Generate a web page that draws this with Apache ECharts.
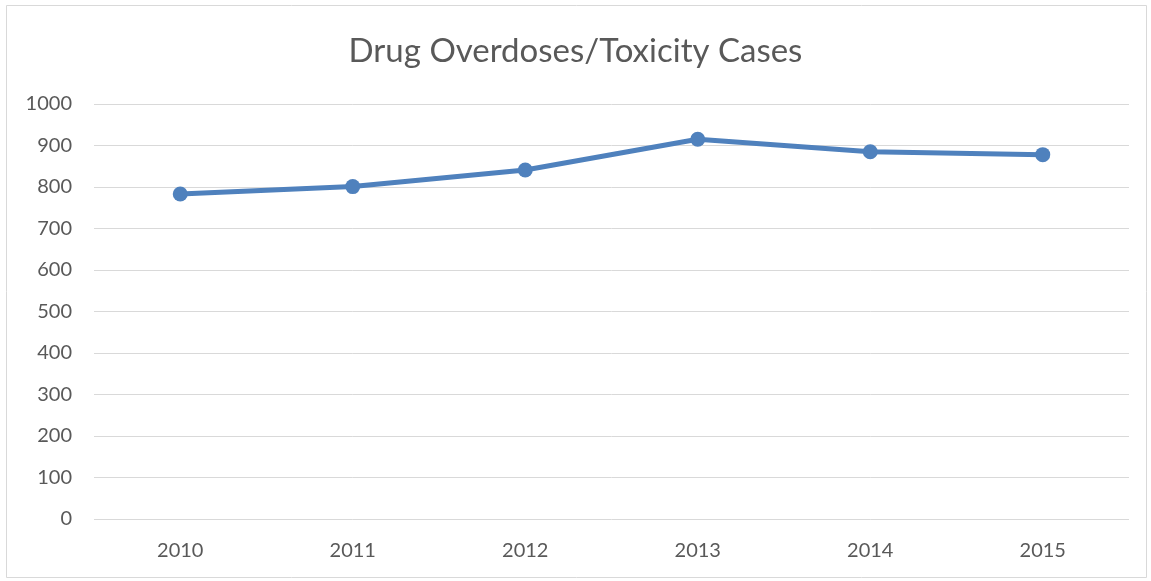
<!DOCTYPE html>
<html>
<head>
<meta charset="utf-8">
<script src="https://cdn.jsdelivr.net/npm/echarts@6/dist/echarts.min.js"></script>
<style>
html,body{margin:0;padding:0;background:#fff;}
#chart{width:1151px;height:581px;}
</style>
</head>
<body>
<div id="chart"></div>
<script>
const titleText = "Drug Overdoses/Toxicity Cases";
const years = ["2010", "2011", "2012", "2013", "2014", "2015"];
const cases = [783, 801, 841, 915, 885, 878];

const chart = echarts.init(document.getElementById('chart'), null, {renderer: 'canvas'});
const fontFamily = 'Lato, "Open Sans", sans-serif';
chart.setOption({
  animation: false,
  backgroundColor: '#ffffff',
  title: {
    text: titleText,
    left: 'center',
    top: 30,
    textStyle: {fontFamily: fontFamily, fontSize: 33, fontWeight: 'normal', color: '#595959'}
  },
  graphic: [{
    type: 'rect',
    shape: {x: 6.5, y: 5.5, width: 1140, height: 572},
    style: {fill: 'none', stroke: '#d9d9d9', lineWidth: 1},
    silent: true
  }],
  grid: {left: 94, right: 22, top: 104, bottom: 62, containLabel: false},
  xAxis: {
    type: 'category',
    data: years,
    boundaryGap: true,
    axisLine: {show: false},
    axisTick: {show: false},
    axisLabel: {fontFamily: fontFamily, fontSize: 20, color: '#595959', margin: 22}
  },
  yAxis: {
    type: 'value',
    min: 0,
    max: 1000,
    interval: 100,
    axisLine: {show: false},
    axisTick: {show: false},
    splitLine: {lineStyle: {color: '#d9d9d9', width: 1}},
    axisLabel: {fontFamily: fontFamily, fontSize: 20, color: '#595959', margin: 22,
      formatter: function (v) { return String(v); }}
  },
  series: [{
    type: 'line',
    data: cases,
    symbol: 'circle',
    symbolSize: 15,
    lineStyle: {color: '#4f81bd', width: 5},
    itemStyle: {color: '#4f81bd'}
  }]
});
</script>
</body>
</html>
